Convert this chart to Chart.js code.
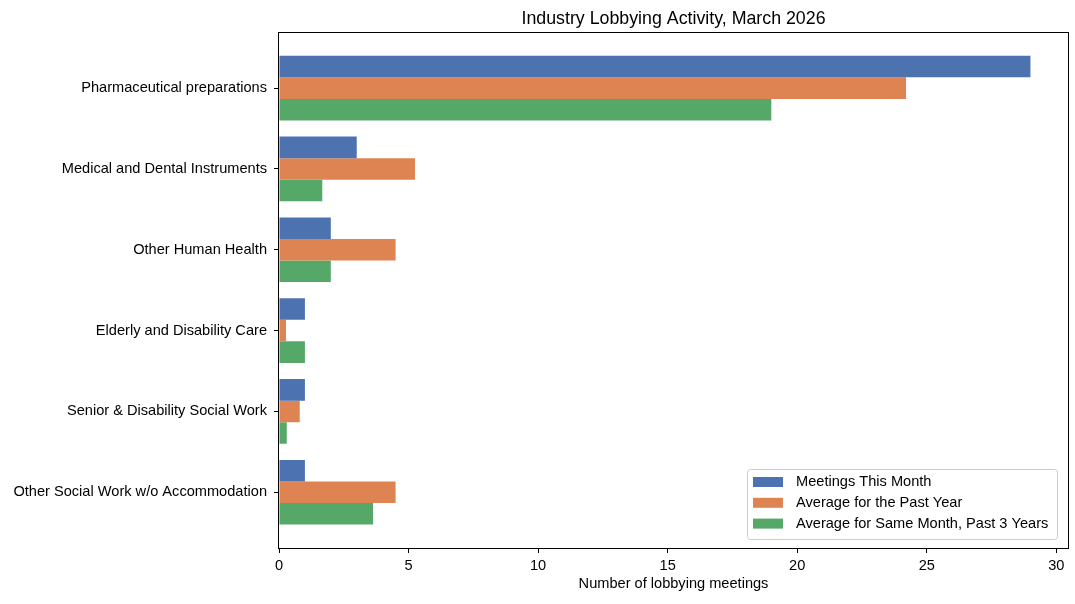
<!DOCTYPE html>
<html>
<head>
<meta charset="utf-8">
<script src="https://cdn.jsdelivr.net/npm/chart.js@4/dist/chart.umd.min.js"></script>
<style>
  html, body { margin: 0; padding: 0; background: #fff; }
  #wrap { width: 1075px; height: 604px; }
</style>
</head>
<body>
<div id="wrap"><canvas id="lobby-chart" width="1075" height="604"></canvas></div>
<script>
// --- Data ---
const INDUSTRIES = [
    'Pharmaceutical preparations',
    'Medical and Dental Instruments',
    'Other Human Health',
    'Elderly and Disability Care',
    'Senior & Disability Social Work',
    'Other Social Work w/o Accommodation'
];
const MEETINGS_THIS_MONTH = [29, 3, 2, 1, 1, 1];
const AVG_PAST_YEAR = [24.2, 5.25, 4.5, 0.27, 0.8, 4.5];
const AVG_SAME_MONTH_3Y = [19, 1.67, 2, 1, 0.3, 3.63];
const SERIES_NAMES = [
    'Meetings This Month',
    'Average for the Past Year',
    'Average for Same Month, Past 3 Years'
];
const X_TICKS = [0, 5, 10, 15, 20, 25, 30];

const COLORS = ['#4c72b0', '#dd8452', '#55a868'];
const FONT = { family: '"Liberation Sans", Arial, sans-serif', size: 14.6 };

function toPoints(values) {
    return values.map((v, i) => ({ x: v, y: i }));
}

// box around the plot (matplotlib spines)
const framePlugin = {
    id: 'frame',
    afterDraw(chart) {
        const { ctx, chartArea: a } = chart;
        ctx.save();
        ctx.strokeStyle = '#000';
        ctx.lineWidth = 1;
        ctx.strokeRect(Math.round(a.left) - 0.5, Math.round(a.top) + 0.5,
            Math.round(a.right - a.left) + 1, Math.round(a.bottom - a.top));
        ctx.restore();
    }
};

// legend inside the plot, lower right
const innerLegend = {
    id: 'innerLegend',
    afterDraw(chart) {
        const { ctx, chartArea: a } = chart;
        const w = 310, h = 70;
        const x = a.right - 11 - w, y = a.bottom - 9 - h;
        ctx.save();
        ctx.beginPath();
        ctx.roundRect(x + 0.5, y + 0.5, w, h, 3);
        ctx.fillStyle = 'rgba(255,255,255,0.8)';
        ctx.fill();
        ctx.strokeStyle = '#cccccc';
        ctx.lineWidth = 1;
        ctx.stroke();
        ctx.font = FONT.size + 'px ' + FONT.family;
        ctx.textBaseline = 'middle';
        ctx.fillStyle = '#000';
        chart.data.datasets.forEach((ds, i) => {
            const cy = y + 13 + i * 20.8;
            ctx.fillStyle = ds.backgroundColor;
            ctx.fillRect(x + 6, cy - 5, 30, 10);
            ctx.fillStyle = '#000';
            ctx.fillText(ds.label, x + 49, cy);
        });
        ctx.restore();
    }
};

const seriesValues = [MEETINGS_THIS_MONTH, AVG_PAST_YEAR, AVG_SAME_MONTH_3Y];

new Chart(document.getElementById('lobby-chart'), {
    type: 'bar',
    data: {
        datasets: seriesValues.map((vals, i) => ({
            label: SERIES_NAMES[i],
            data: toPoints(vals),
            backgroundColor: COLORS[i],
            borderWidth: 0,
            categoryPercentage: 0.8,
            barPercentage: 1.0
        }))
    },
    options: {
        indexAxis: 'y',
        responsive: false,
        animation: false,
        layout: { padding: { left: 0, right: 7, top: 0, bottom: 0 } },
        plugins: {
            legend: { display: false },
            tooltip: { enabled: false },
            title: {
                display: true,
                text: 'Industry Lobbying Activity, March 2026',
                fullSize: false,
                color: '#000',
                font: { family: FONT.family, size: 17.8, weight: 'normal' },
                padding: { top: 8, bottom: 3 }
            }
        },
        scales: {
            x: {
                type: 'linear',
                min: 0,
                max: 30.45,
                afterBuildTicks: axis => { axis.ticks = X_TICKS.map(v => ({ value: v })); },
                afterFit: axis => { axis.height = 56; },
                grid: { drawOnChartArea: false, drawTicks: true, tickLength: 5, color: '#000' },
                border: { display: false },
                ticks: { color: '#000', font: FONT, padding: 4, maxRotation: 0 },
                title: {
                    display: true,
                    text: 'Number of lobbying meetings',
                    color: '#000',
                    font: FONT,
                    padding: { top: 0, bottom: 11 }
                }
            },
            y: {
                type: 'linear',
                reverse: true,
                offset: false,
                min: -0.69,
                max: 5.69,
                afterBuildTicks: axis => { axis.ticks = INDUSTRIES.map((c, i) => ({ value: i })); },
                afterFit: axis => { axis.width = 279; },
                grid: { offset: false, drawOnChartArea: false, drawTicks: true, tickLength: 5, color: '#000' },
                border: { display: false },
                ticks: {
                    color: '#000',
                    font: FONT,
                    padding: 7,
                    callback: v => INDUSTRIES[v]
                }
            }
        }
    },
    plugins: [framePlugin, innerLegend]
});
</script>
</body>
</html>
